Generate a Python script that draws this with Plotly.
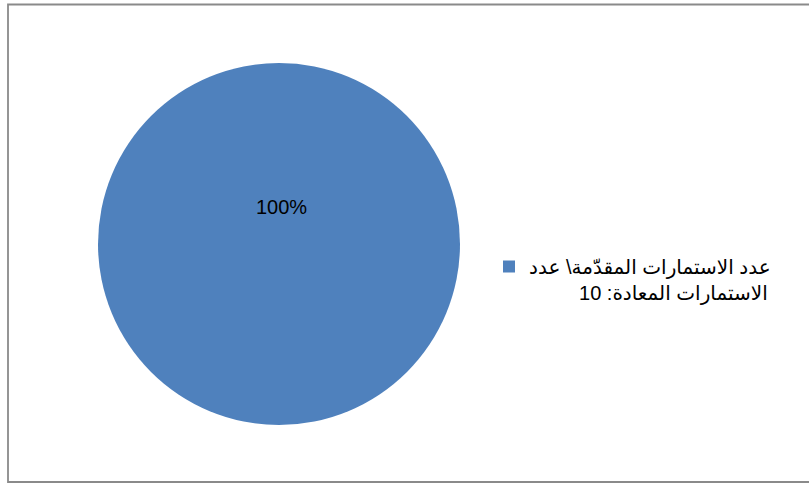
import plotly.graph_objects as go

# Single-category pie: submitted vs. returned questionnaires
categories = ["عدد الاستمارات المقدّمة\\ عدد الاستمارات المعادة: 10"]
values = [10]

legend_lines = ["عدد الاستمارات المقدّمة\\ عدد", "الاستمارات المعادة: 10"]
pad = "\u00a0" * 9
legend_label = legend_lines[0] + "<br>" + pad + legend_lines[1]

W, H = 809, 484
cx, cy, r = 279, 244, 181

fig = go.Figure()
fig.add_trace(go.Pie(
    labels=[legend_label],
    values=values,
    marker=dict(colors=["#4F81BD"], line=dict(width=0)),
    textinfo="none",
    hoverinfo="label+percent",
    sort=False,
    domain=dict(x=[(cx - r) / W, (cx + r) / W],
                y=[1 - (cy + r) / H, 1 - (cy - r) / H]),
    showlegend=True,
))

share = values[0] / sum(values) * 100
fig.add_annotation(
    x=281 / W, y=1 - 207 / H, xref="paper", yref="paper",
    text=f"{share:.0f}%", showarrow=False,
    font=dict(family="Liberation Sans, Arial, sans-serif", size=20, color="#000000"),
)

# chart-area frame (right edge runs off the page)
fig.add_shape(type="rect", xref="paper", yref="paper",
              x0=8 / W, x1=1.02, y0=1 - 482 / H, y1=1 - 4.5 / H,
              line=dict(color="#8a8a8a", width=1.8), fillcolor="rgba(0,0,0,0)")

fig.update_layout(
    width=W, height=H,
    margin=dict(l=0, r=0, t=0, b=0),
    paper_bgcolor="#ffffff",
    plot_bgcolor="#ffffff",
    legend=dict(
        x=489 / W, y=1 - 247 / H, xanchor="left", yanchor="top",
        valign="top",
        font=dict(family="Liberation Sans, Arial, DejaVu Sans, sans-serif", size=20, color="#000000"),
        bgcolor="rgba(0,0,0,0)",
    ),
    font=dict(family="Liberation Sans, Arial, sans-serif"),
)

fig.write_html("out.html")
